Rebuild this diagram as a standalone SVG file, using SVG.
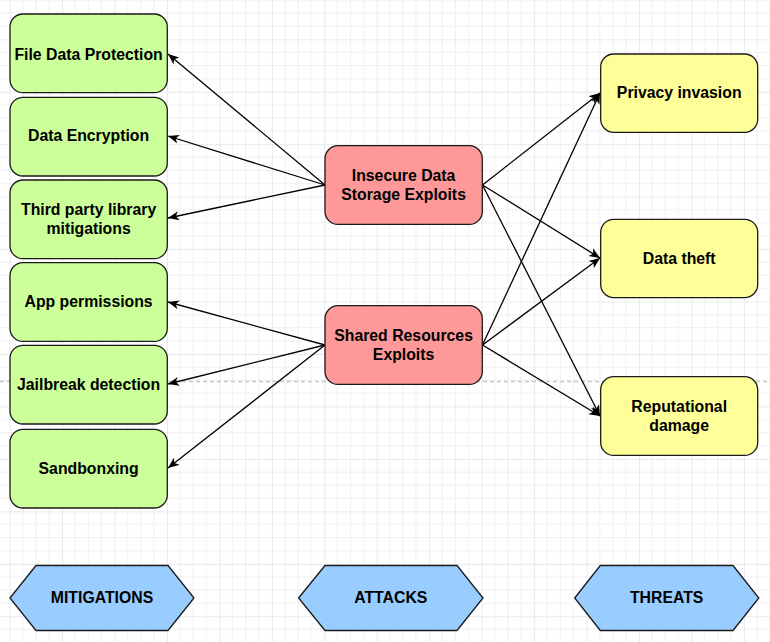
<svg xmlns="http://www.w3.org/2000/svg" width="770" height="642" viewBox="0 0 770 642">
<style>
.txt{font-family:"Liberation Sans",Arial,sans-serif;font-weight:bold;font-size:15.8px;fill:#000;text-anchor:middle}
.mit rect{fill:#CCFF99;stroke:#1a1a1a;stroke-width:1.3}
.atk rect{fill:#FF9999;stroke:#1a1a1a;stroke-width:1.3}
.thr rect{fill:#FFFF99;stroke:#1a1a1a;stroke-width:1.3}
.hex polygon{fill:#99CCFF;stroke:#1a1a1a;stroke-width:1.3}
.conn line{stroke:#000;stroke-width:1.3;marker-end:url(#arr)}
</style>
<defs>
<pattern id="grid" patternUnits="userSpaceOnUse" x="9.6" y="-13.15" width="52.45" height="52.45">
<path d="M13.11 0V52.45M26.22 0V52.45M39.34 0V52.45M0 13.11H52.45M0 26.22H52.45M0 39.34H52.45" stroke="#efefef" stroke-width="1" fill="none"/>
<path d="M0 0V52.45M0 0H52.45" stroke="#d6d6d6" stroke-width="1" fill="none"/>
</pattern>
<marker id="arr" markerUnits="userSpaceOnUse" markerWidth="14" markerHeight="12" refX="11" refY="5" orient="auto">
<path d="M0,0.5 L11,5 L0,9.5 L3,5 Z" fill="#000"/>
</marker>
</defs>
<rect width="770" height="642" fill="#fff"/>
<rect width="770" height="642" fill="url(#grid)"/>
<line x1="0" y1="381.5" x2="770" y2="381.5" stroke="#c8c8c8" stroke-width="1.3" stroke-dasharray="4,3"/>

<g id="connectors" class="conn">
<line x1="325" y1="185" x2="168" y2="54"/>
<line x1="325" y1="185" x2="168" y2="136"/>
<line x1="325" y1="185" x2="168" y2="218"/>
<line x1="325" y1="345" x2="168" y2="302"/>
<line x1="325" y1="345" x2="168" y2="384"/>
<line x1="325" y1="345" x2="168" y2="468"/>
<line x1="482.5" y1="185" x2="600" y2="93"/>
<line x1="482.5" y1="185" x2="600" y2="258"/>
<line x1="482.5" y1="185" x2="600" y2="416"/>
<line x1="482.5" y1="345" x2="600" y2="93"/>
<line x1="482.5" y1="345" x2="600" y2="258"/>
<line x1="482.5" y1="345" x2="600" y2="416"/>
</g>

<g id="file-data-protection" class="mit"><rect x="10" y="14" width="157.3" height="78.7" rx="13"/><text class="txt" x="88.6" y="59.5">File Data Protection</text></g>
<g id="data-encryption" class="mit"><rect x="10" y="97.3" width="157.3" height="78.7" rx="13"/><text class="txt" x="88.6" y="141.3">Data Encryption</text></g>
<g id="third-party" class="mit"><rect x="10" y="180" width="157.3" height="78.7" rx="13"/><text class="txt" x="88.6" y="215"><tspan x="88.6">Third party library</tspan><tspan x="88.6" dy="19">mitigations</tspan></text></g>
<g id="app-permissions" class="mit"><rect x="10" y="262.7" width="157.3" height="78.7" rx="13"/><text class="txt" x="88.6" y="307">App permissions</text></g>
<g id="jailbreak-detection" class="mit"><rect x="10" y="345.3" width="157.3" height="78.7" rx="13"/><text class="txt" x="88.6" y="390">Jailbreak detection</text></g>
<g id="sandboxing" class="mit"><rect x="10" y="429.3" width="157.3" height="78.7" rx="13"/><text class="txt" x="88.6" y="473.5">Sandbonxing</text></g>

<g id="insecure-data-storage" class="atk"><rect x="325" y="145.7" width="157.3" height="78.7" rx="13"/><text class="txt" x="403.6" y="180.5"><tspan x="403.6">Insecure Data</tspan><tspan x="403.6" dy="19">Storage Exploits</tspan></text></g>
<g id="shared-resources" class="atk"><rect x="325" y="305.7" width="157.3" height="78.7" rx="13"/><text class="txt" x="403.6" y="340.5"><tspan x="403.6">Shared Resources</tspan><tspan x="403.6" dy="19">Exploits</tspan></text></g>

<g id="privacy-invasion" class="thr"><rect x="600.7" y="54" width="157" height="78.3" rx="13"/><text class="txt" x="679.2" y="98.2">Privacy invasion</text></g>
<g id="data-theft" class="thr"><rect x="600.7" y="219.3" width="157" height="78.3" rx="13"/><text class="txt" x="679.2" y="263.8">Data theft</text></g>
<g id="reputational-damage" class="thr"><rect x="600.7" y="376.7" width="157" height="78.7" rx="13"/><text class="txt" x="679.2" y="412.2"><tspan x="679.2">Reputational</tspan><tspan x="679.2" dy="19">damage</tspan></text></g>

<g id="mitigations-label" class="hex"><polygon points="10,598 36,565.5 168,565.5 194,598 168,630.5 36,630.5"/><text class="txt" x="102" y="603">MITIGATIONS</text></g>
<g id="attacks-label" class="hex"><polygon points="298.6,598 325,565.5 457,565.5 483,598 457,630.5 325,630.5"/><text class="txt" x="390.8" y="603">ATTACKS</text></g>
<g id="threats-label" class="hex"><polygon points="574.7,598 600.3,565.5 733,565.5 758.8,598 733,630.5 600.3,630.5"/><text class="txt" x="666.7" y="603">THREATS</text></g>
</svg>
